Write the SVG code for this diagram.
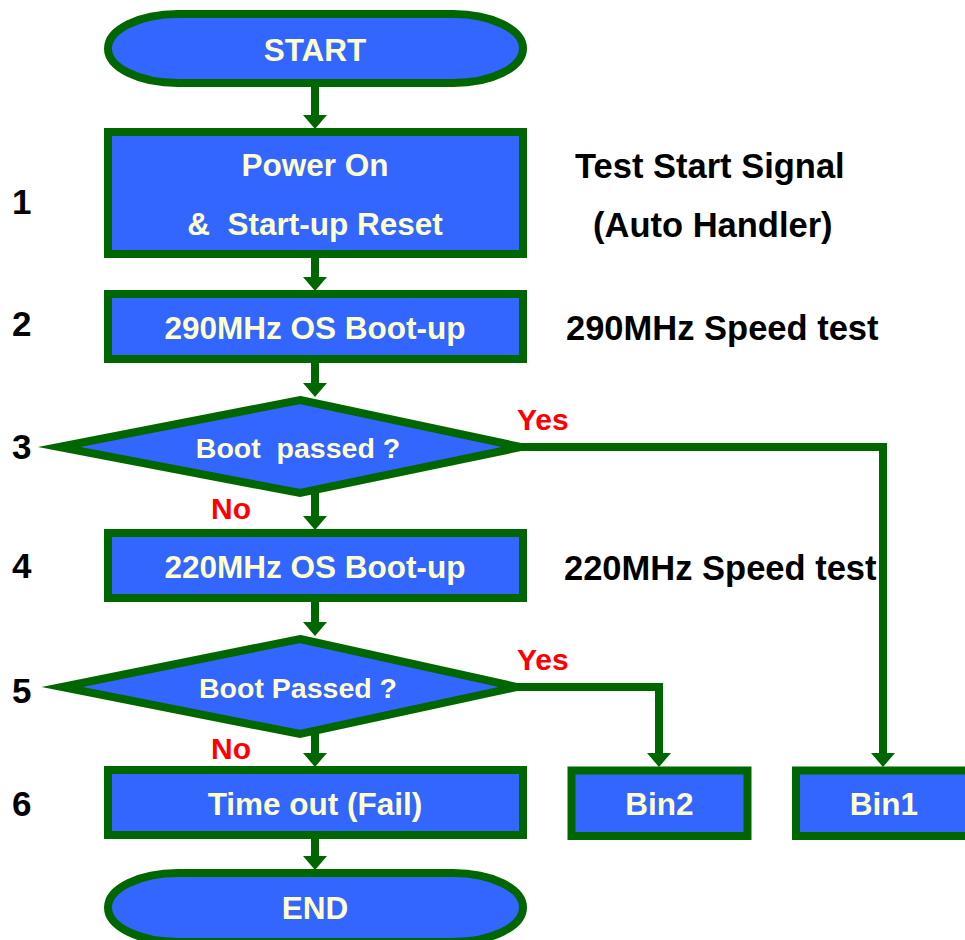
<svg xmlns="http://www.w3.org/2000/svg" width="965" height="940" viewBox="0 0 965 940">
<defs>
<style>
.shape{fill:#3366FF;stroke:#006600;stroke-width:8;stroke-miterlimit:12}
.in{font-family:"Liberation Sans",Arial,sans-serif;font-weight:bold;font-size:31.5px;fill:#FFFFCC;text-anchor:middle}
.dt{font-family:"Liberation Sans",Arial,sans-serif;font-weight:bold;font-size:28.5px;fill:#FFFFCC;text-anchor:middle}
.side{font-family:"Liberation Sans",Arial,sans-serif;font-weight:bold;font-size:34.5px;fill:#000000}
.num{font-family:"Liberation Sans",Arial,sans-serif;font-weight:bold;font-size:35px;fill:#000000}
.lbl{font-family:"Liberation Sans",Arial,sans-serif;font-weight:bold;font-size:30px;fill:#FF0000}
.conn{fill:none;stroke:#006600;stroke-width:8;stroke-linejoin:miter}
</style>
<marker id="ah" markerUnits="userSpaceOnUse" markerWidth="14" markerHeight="24" viewBox="0 0 14 24" refX="1" refY="12" orient="auto">
<path d="M0,0 L14,12 L0,24 z" fill="#006600"/>
</marker>
</defs>

<g id="connectors">
<path class="conn" d="M315,83 V116" marker-end="url(#ah)"/>
<path class="conn" d="M315,254 V278" marker-end="url(#ah)"/>
<path class="conn" d="M315,359 V384" marker-end="url(#ah)"/>
<path class="conn" d="M315,490 V517" marker-end="url(#ah)"/>
<path class="conn" d="M315,598 V623" marker-end="url(#ah)"/>
<path class="conn" d="M315,731 V754" marker-end="url(#ah)"/>
<path class="conn" d="M315,835 V857" marker-end="url(#ah)"/>
<path class="conn" d="M521,447 H883 V754" marker-end="url(#ah)"/>
<path class="conn" d="M517,687 H659 V754" marker-end="url(#ah)"/>
<text class="lbl" x="517" y="430">Yes</text>
<text class="lbl" x="211" y="519">No</text>
<text class="lbl" x="517" y="670">Yes</text>
<text class="lbl" x="211" y="759">No</text>
</g>

<g id="start">
<rect class="shape" x="108" y="14" width="415" height="69" rx="70" ry="34.5"/>
<text class="in" x="315" y="61">START</text>
</g>

<g id="step1">
<rect class="shape" x="108" y="132" width="415" height="122"/>
<text class="in" x="315" y="176">Power On</text>
<text class="in" x="315" y="235" xml:space="preserve">&amp;  Start-up Reset</text>
</g>

<g id="step2">
<rect class="shape" x="108" y="294" width="415" height="65"/>
<text class="in" x="315" y="339">290MHz OS Boot-up</text>
</g>

<g id="decision1">
<polygon class="shape" points="300,400 521,447 300,493 59,447"/>
<text class="dt" x="298" y="458" xml:space="preserve">Boot  passed ?</text>
</g>

<g id="step4">
<rect class="shape" x="108" y="533" width="415" height="65"/>
<text class="in" x="315" y="578">220MHz OS Boot-up</text>
</g>

<g id="decision2">
<polygon class="shape" points="300,639 517,687 300,734 62,687"/>
<text class="dt" x="298" y="698">Boot Passed ?</text>
</g>

<g id="step6">
<rect class="shape" x="108" y="770" width="415" height="65"/>
<text class="in" x="315" y="815">Time out (Fail)</text>
</g>

<g id="bin2">
<rect class="shape" x="571.5" y="770.5" width="176" height="65.5"/>
<text class="in" x="659.5" y="815">Bin2</text>
</g>

<g id="bin1">
<rect class="shape" x="796" y="770.5" width="176" height="65.5"/>
<text class="in" x="884" y="815">Bin1</text>
</g>

<g id="end">
<rect class="shape" x="108" y="873" width="415" height="69" rx="70" ry="34.5"/>
<text class="in" x="315" y="919">END</text>
</g>

<g id="side-notes">
<text class="side" x="575" y="178">Test Start Signal</text>
<text class="side" x="593" y="237">(Auto Handler)</text>
<text class="side" x="566" y="340">290MHz Speed test</text>
<text class="side" x="564" y="580">220MHz Speed test</text>
</g>

<g id="step-numbers">
<text class="num" x="12" y="214">1</text>
<text class="num" x="12" y="336">2</text>
<text class="num" x="12" y="459">3</text>
<text class="num" x="12" y="578">4</text>
<text class="num" x="12" y="703">5</text>
<text class="num" x="12" y="816">6</text>
</g>
</svg>
